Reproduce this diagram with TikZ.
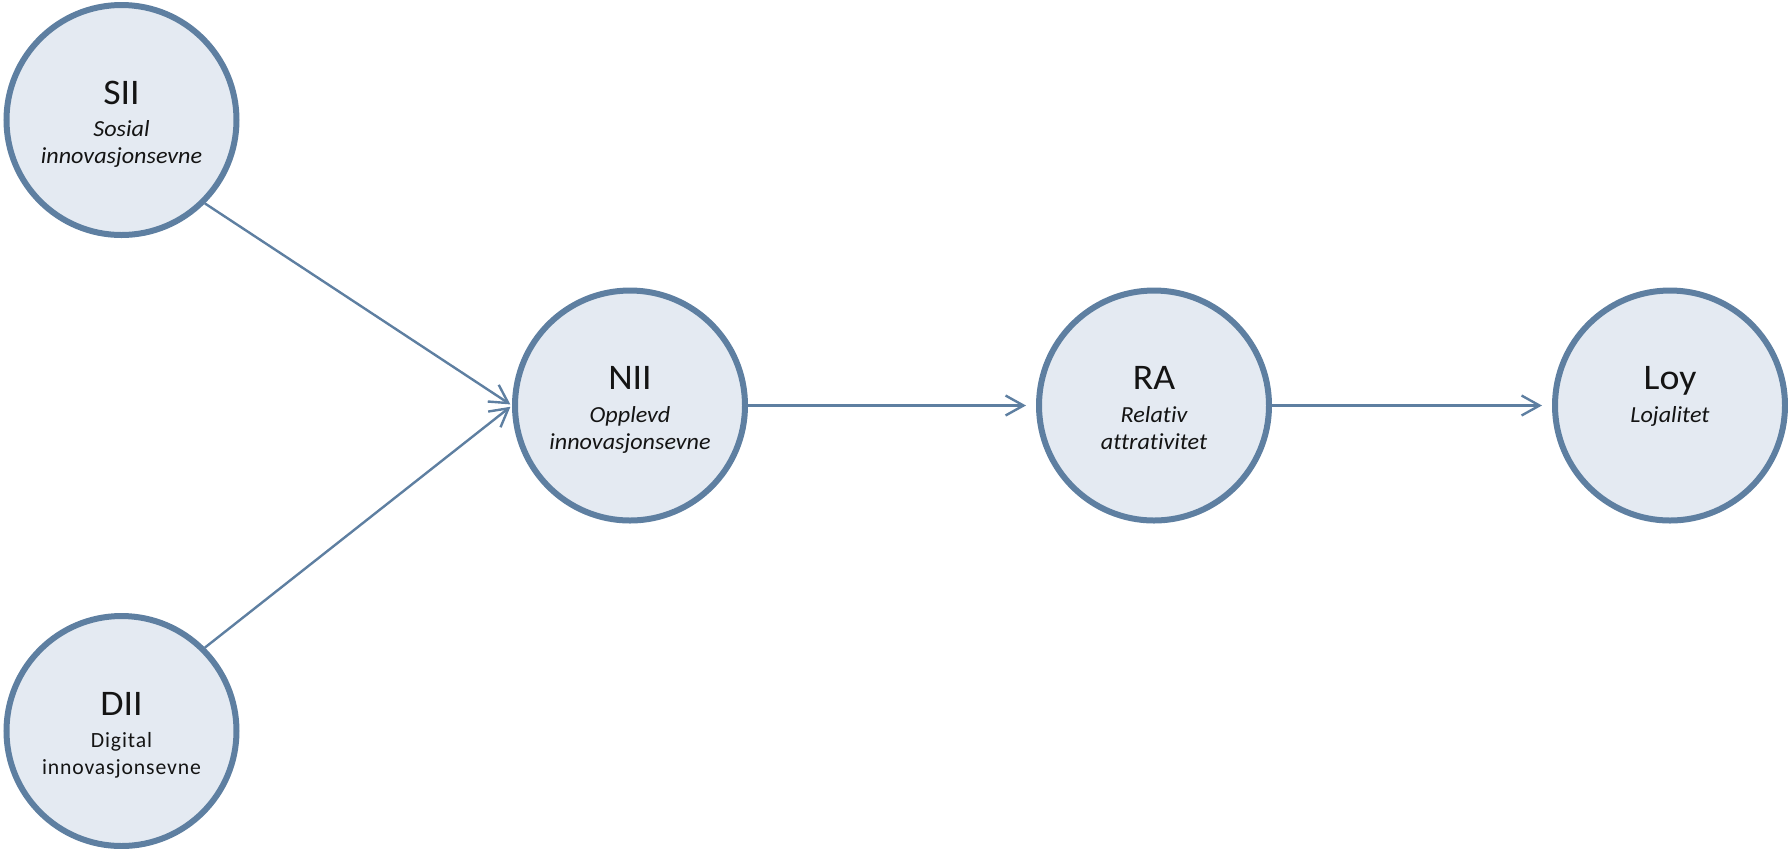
\documentclass[tikz,border=0pt]{standalone}
\usepackage{fontspec}
\setmainfont{Carlito}[Ligatures=NoCommon]
\usetikzlibrary{arrows.meta,calc}
\definecolor{edgec}{RGB}{94,127,161}
\definecolor{fillc}{RGB}{228,234,242}
\definecolor{txtc}{RGB}{20,20,20}
\newcommand{\tstretch}[1]{\scalebox{1.05}[1]{#1}}
\newcommand{\sstretch}[1]{\scalebox{1.05}[1]{#1}}
\begin{document}
\begin{tikzpicture}[x=0.5pt,y=-0.5pt,
  bub/.style={circle, draw=edgec, fill=fillc, line width=3pt, minimum size=115pt, inner sep=0pt},
  ttl/.style={anchor=base, font=\fontsize{18}{21}\selectfont, text=txtc, inner sep=0pt},
  sub/.style={anchor=base, font=\fontsize{11.5}{14}\selectfont\itshape, text=txtc, inner sep=0pt},
  subup/.style={anchor=base, font=\fontsize{10.85}{13}\selectfont\addfontfeatures{LetterSpace=4}, text=txtc, inner sep=0pt},
  con/.style={draw=edgec, line width=1.2pt, -{Straight Barb[length=9pt,width=10pt,line width=1.2pt]}}]
\useasboundingbox (0,0) rectangle (1788,848);

\node[bub] (sii) at (121.5,120) {};
\node[bub] (dii) at (121.5,731) {};
\node[bub] (nii) at (630,405.5) {};
\node[bub] (ra) at (1154,405.5) {};
\node[bub] (loy) at (1670,405.5) {};

\node[ttl] (siiT) at ($(sii.center)+(0,-16)$) {\tstretch{SII}};
\node[sub] (siiA) at ($(sii.center)+(0,16.5)$) {\sstretch{Sosial}};
\node[sub] (siiB) at ($(sii.center)+(0,43.5)$) {\sstretch{innovasjonsevne}};

\node[ttl] (diiT) at ($(dii.center)+(0,-16)$) {\tstretch{DII}};
\node[subup] (diiA) at ($(dii.center)+(0,16.5)$) {Digital};
\node[subup] (diiB) at ($(dii.center)+(0,43.5)$) {innovasjonsevne};

\node[ttl] (niiT) at ($(nii.center)+(0,-16)$) {\tstretch{NII}};
\node[sub] (niiA) at ($(nii.center)+(0,16.5)$) {\sstretch{Opplevd}};
\node[sub] (niiB) at ($(nii.center)+(0,43.5)$) {\sstretch{innovasjonsevne}};

\node[ttl] (raT) at ($(ra.center)+(0,-16)$) {\tstretch{RA}};
\node[sub] (raA) at ($(ra.center)+(0,16.5)$) {\sstretch{Relativ}};
\node[sub] (raB) at ($(ra.center)+(0,43.5)$) {\sstretch{attrativitet}};

\node[ttl] (loyT) at ($(loy.center)+(0,-16)$) {\tstretch{Loy}};
\node[sub] (loyA) at ($(loy.center)+(0,16.5)$) {\sstretch{Lojalitet}};

\draw[con, shorten >=1pt] (sii.south east) -- (nii.west);
\draw[con, shorten >=1pt] (dii.north east) -- (nii.west);
\draw[con, shorten >=5pt] (nii.east) -- (ra.west);
\draw[con, shorten >=5pt] (ra.east) -- (loy.west);
\end{tikzpicture}
\end{document}
